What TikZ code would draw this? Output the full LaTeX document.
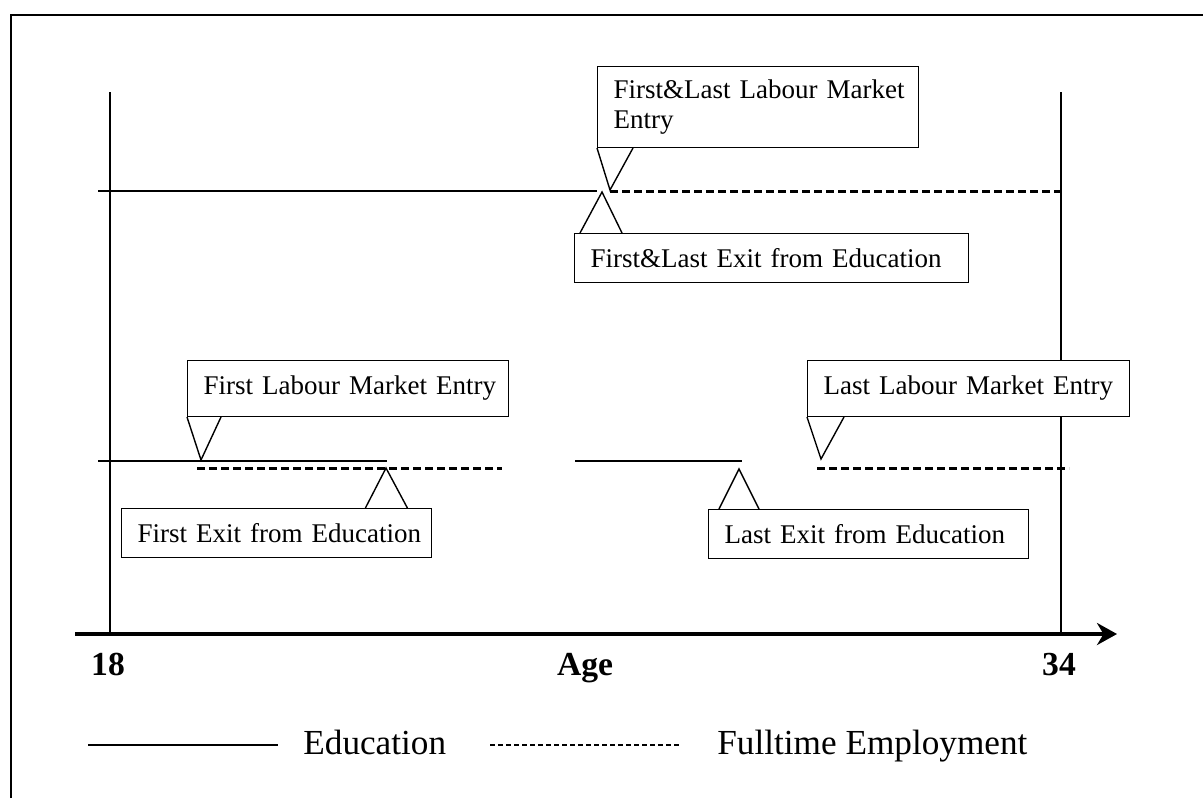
\documentclass[tikz,border=0pt]{standalone}
\usepackage{fontspec}
\setmainfont{Liberation Serif}
\usetikzlibrary{arrows.meta}
\tikzset{%
    callout/.style={%
        draw, line width=0.7pt, fill=white, align=left,
        inner xsep=8pt, inner ysep=0pt, minimum height=24.5pt,
        font=\fontsize{13.5}{15}\selectfont
    },
    pointer/.style={line width=0.7pt},
    educ/.style={line width=0.8pt},
    empl/.style={line width=1.5pt, dash pattern=on 4pt off 2pt},
    agelabel/.style={%
        anchor=base, inner sep=0pt,
        font=\fontsize{16.8}{18}\selectfont\bfseries
    },
    legendtext/.style={%
        anchor=base west, inner sep=0pt,
        font=\fontsize{17.6}{19}\selectfont
    }
}

\begin{document}
\begin{tikzpicture}[x=0.5pt, y=-0.5pt]

    \useasboundingbox (0, 0) rectangle (1203, 798);

    % Frame
    \draw[line width=1pt] (11, 798) -- (11, 15) -- (1203, 15);

    % Age window
    \draw[line width=1pt] (110, 92) -- (110, 634);
    \draw[line width=1pt] (1061, 92) -- (1061, 634);

    %%% Single transition
    \draw[educ] (98, 191) -- (597, 191);
    \draw[empl] (610, 191) -- (1061, 191);

    \node[callout, anchor=south west, text width=144.5pt, minimum height=40.5pt]
        (flentry) at (597, 148)
        {\mbox{First\&Last Labour Market}\\\mbox{Entry}};
    \coordinate (flentry-tip) at (610, 190);
    \draw[pointer]
        (flentry.south west) -- (flentry-tip) -- ([xshift=18pt] flentry.south west);

    \node[callout, anchor=north west, text width=181pt]
        (flexit) at (574, 233) {\mbox{First\&Last Exit from Education}};
    \coordinate (flexit-tip) at (602, 192);
    \draw[pointer]
        ([xshift=3pt] flexit.north west) -- (flexit-tip)
        -- ([xshift=24pt] flexit.north west);

    %%% Several transitions
    \draw[educ] (98, 461) -- (387, 461);
    \draw[empl] (197, 468) -- (502, 468);
    \draw[educ] (575, 461) -- (742, 461);
    \draw[empl] (817, 468) -- (1069, 468);

    % First
    \node[callout, anchor=south west, text width=144.5pt, minimum height=28pt]
        (fentry) at (187, 417) {\mbox{First Labour Market Entry}};
    \coordinate (fentry-tip) at (201, 460);
    \draw[pointer]
        (fentry.south west) -- (fentry-tip) -- ([xshift=17pt] fentry.south west);

    \node[callout, anchor=north west, text width=139pt]
        (fexit) at (121, 508) {\mbox{First Exit from Education}};
    \coordinate (fexit-tip) at (386, 468);
    \draw[pointer]
        ([xshift=-33.5pt] fexit.north east) -- (fexit-tip)
        -- ([xshift=-12.5pt] fexit.north east);

    % Last
    \node[callout, anchor=south west, text width=145pt, minimum height=28pt]
        (lentry) at (807, 417) {\mbox{Last Labour Market Entry}};
    \coordinate (lentry-tip) at (821, 459);
    \draw[pointer]
        (lentry.south west) -- (lentry-tip) -- ([xshift=18.5pt] lentry.south west);

    \node[callout, anchor=north west, text width=144pt]
        (lexit) at (708, 509) {\mbox{Last Exit from Education}};
    \coordinate (lexit-tip) at (739, 469);
    \draw[pointer]
        ([xshift=5.5pt] lexit.north west) -- (lexit-tip)
        -- ([xshift=25.5pt] lexit.north west);

    %%% Age axis
    \coordinate (axis-start) at (75, 634);
    \coordinate (axis-end) at (1117, 634);
    \draw[line width=1.8pt, -{Stealth[length=10pt, width=11pt]}]
        (axis-start) -- (axis-end);

    \node[agelabel] (age-min) at (108, 675) {18};
    \node[agelabel] (age) at (585, 675) {Age};
    \node[agelabel] (age-max) at (1059, 675) {34};

    %%% Legend
    \draw[educ] (88, 745) -- (278, 745);
    \node[legendtext] (leg-educ) at (303, 754) {Education};
    \draw[line width=1.3pt, dash pattern=on 2.5pt off 1.5pt] (490, 745) -- (681, 745);
    \node[legendtext] (leg-empl) at (717, 754) {Fulltime Employment};

\end{tikzpicture}
\end{document}
